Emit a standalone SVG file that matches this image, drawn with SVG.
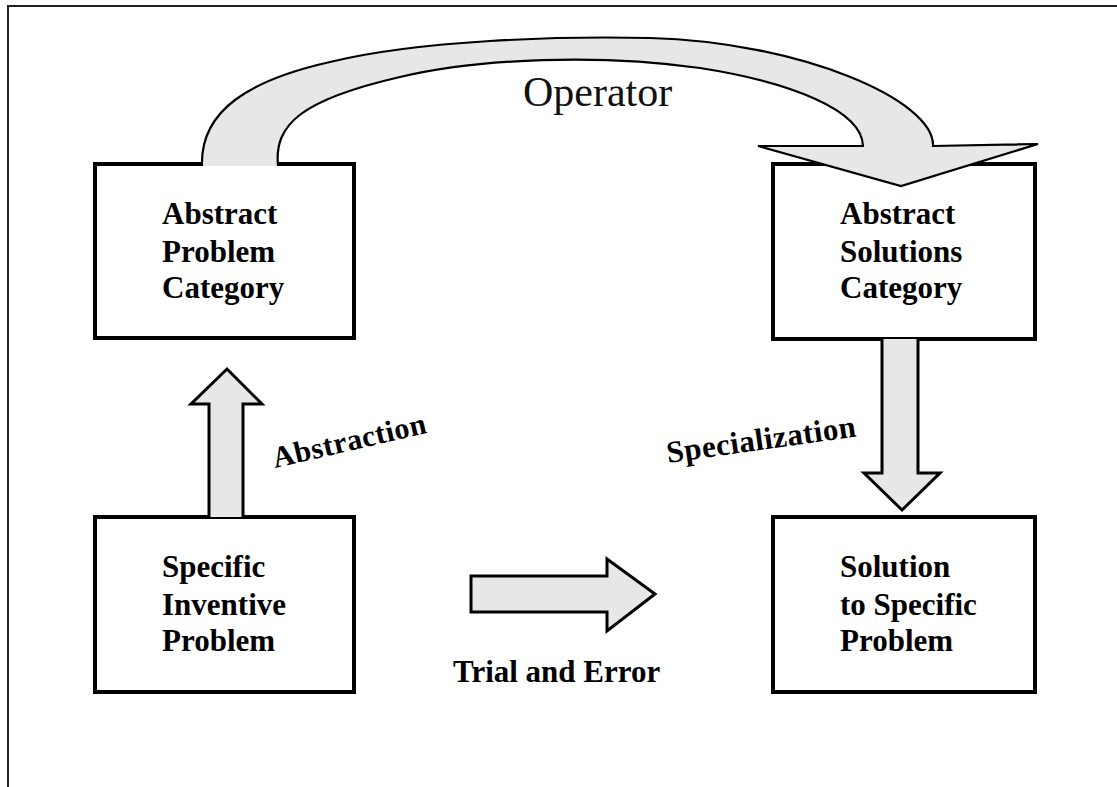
<svg xmlns="http://www.w3.org/2000/svg" width="1117" height="787" viewBox="0 0 1117 787">
  <style>
    .box { fill: #ffffff; stroke: #000000; stroke-width: 4; }
    .block { fill: #e6e7e6; stroke: #000000; stroke-width: 3; stroke-linejoin: miter; }
    .arc { fill: #e6e7e6; stroke: #000000; stroke-width: 2.2; stroke-linejoin: miter; }
    .label { font-family: "Liberation Serif", "Times New Roman", serif; font-weight: bold; font-size: 31px; fill: #000000; }
    .op { font-family: "Liberation Serif", "Times New Roman", serif; font-size: 42px; fill: #111111; }
    .frame { fill: none; stroke: #222222; stroke-width: 2; }
  </style>

  <rect x="0" y="0" width="1117" height="787" fill="#ffffff"/>
  <!-- page frame: top and left edges only -->
  <path class="frame" d="M8,787 L8,6 L1117,6"/>

  <g id="abstract-problem">
    <rect class="box" x="95" y="164" width="259" height="174"/>
    <text class="label" x="162" y="224">Abstract</text>
    <text class="label" x="162" y="262">Problem</text>
    <text class="label" x="162" y="298">Category</text>
  </g>

  <g id="abstract-solutions">
    <rect class="box" x="773" y="164" width="262" height="175"/>
    <text class="label" x="840" y="224">Abstract</text>
    <text class="label" x="840" y="262">Solutions</text>
    <text class="label" x="840" y="298">Category</text>
  </g>

  <g id="specific-problem">
    <rect class="box" x="95" y="517" width="259" height="175"/>
    <text class="label" x="162" y="577">Specific</text>
    <text class="label" x="162" y="615">Inventive</text>
    <text class="label" x="162" y="651">Problem</text>
  </g>

  <g id="specific-solution">
    <rect class="box" x="773" y="517" width="262" height="175"/>
    <text class="label" x="840" y="577">Solution</text>
    <text class="label" x="840" y="615">to Specific</text>
    <text class="label" x="840" y="651">Problem</text>
  </g>

  <g id="connectors">
    <!-- operator: curved block arrow from problem category to solutions category -->
    <path class="arc" d="M202,166 C200,110 250,80 330,62 C420,40 560,36 650,38 C800,42 935,100 933,146 L1038,144 L901,186 L758,146 L863,146 C862,110 790,82 700,68 C600,54 480,58 400,77 C300,100 274,125 278,166"/>
    <text class="op" x="523" y="106">Operator</text>

    <!-- abstraction: up arrow -->
    <path class="block" d="M209,517 L209,404 L191,404 L227,369 L262,404 L243,404 L243,517"/>
    <text class="label" transform="translate(275,468) rotate(-13)" style="font-size:30px;letter-spacing:0.5px">Abstraction</text>

    <!-- specialization: down arrow -->
    <path class="block" d="M882,339 L882,473 L864,473 L902,510 L940,473 L918,473 L918,339"/>
    <text class="label" transform="translate(668,463) rotate(-8)" style="font-size:31px;letter-spacing:0.5px">Specialization</text>

    <!-- trial and error: right arrow -->
    <path class="block" d="M471,576 L607,576 L607,559 L655,594 L607,631 L607,612 L471,612 Z"/>
    <text class="label" x="453" y="682">Trial and Error</text>
  </g>
</svg>
